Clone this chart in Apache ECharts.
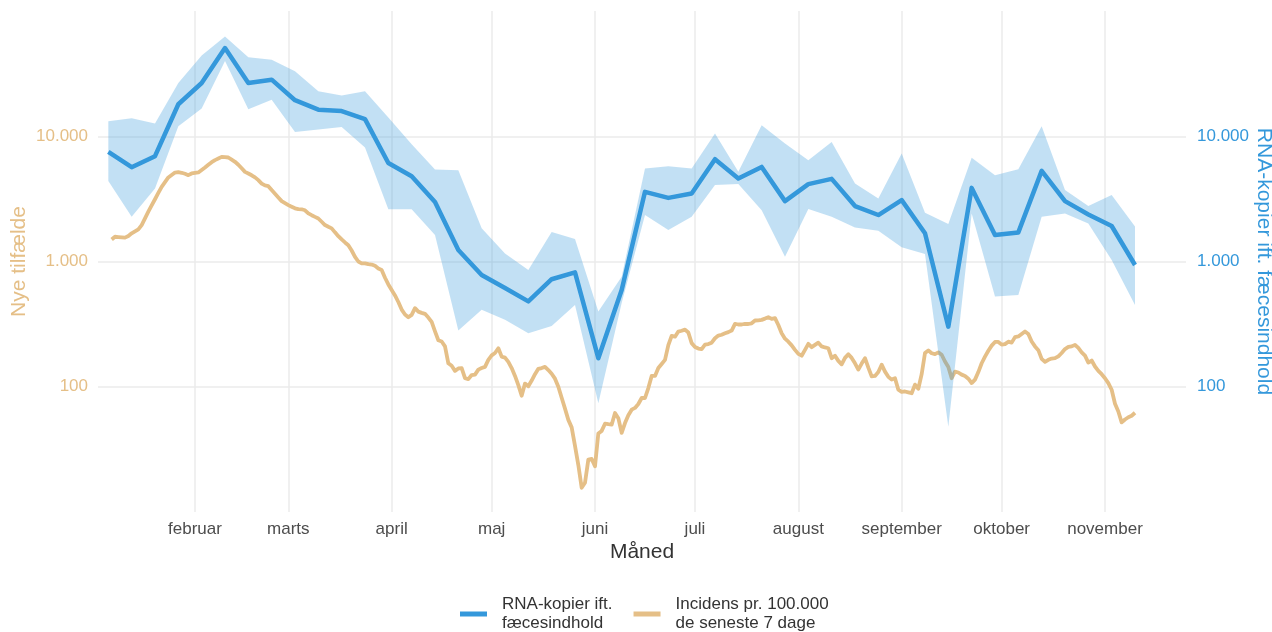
<!DOCTYPE html>
<html>
<head>
<meta charset="utf-8">
<script src="https://cdn.jsdelivr.net/npm/echarts@6/dist/echarts.min.js"></script>
<style>
html,body{margin:0;padding:0;background:#fff;}
#chart{width:1272px;height:632px;}
</style>
</head>
<body>
<div id="chart"></div>
<script>
// Month tick labels (Danish)
const monthNames = ['januar','februar','marts','april','maj','juni','juli','august','september','oktober','november','december'];

// RNA copies relative to faecal content: weekly from 2021-01-06
const rnaStart = [2021, 0, 6];
const rnaValues = [7500, 5660, 6930, 18000, 26600, 50600, 26600, 28300, 19400, 16300, 15900, 13700, 6120, 4790, 2980, 1235, 781, 615, 480, 722, 820, 169, 593, 3600, 3220, 3490, 6560, 4600, 5690, 3035, 4150, 4570, 2770, 2350, 3090, 1680, 302, 3870, 1625, 1707, 5290, 3035, 2375, 1920, 938];
const rnaUpper = [13170, 13900, 12620, 26600, 44200, 62700, 42800, 40800, 33100, 22900, 21200, 22900, 14100, 8630, 5430, 5360, 1840, 1160, 855, 1718, 1510, 398, 757, 5520, 5770, 5520, 10500, 5200, 12240, 8750, 6440, 9010, 4200, 3190, 7280, 2450, 1990, 6720, 4890, 5460, 12000, 3720, 2770, 3390, 1900];
const rnaLower = [4400, 2275, 3830, 12000, 16640, 39800, 16400, 19600, 10800, 11300, 11870, 8130, 2610, 2610, 1625, 281, 411, 342, 268, 306, 450, 74, 466, 2350, 1782, 2275, 4080, 4150, 2570, 1092, 2620, 2275, 1870, 1760, 1297, 1148, 48, 2420, 525, 541, 2275, 2420, 2015, 1028, 450];

// Incidence per 100,000 over the last 7 days: daily from 2021-01-07
const incStart = [2021, 0, 7];
const incValues = [
1497,1576,1567,1559,1550,1597,1678,1740,1805,1954,2209,2502,2809,3142,3527,3945,4300,4687,4898,5129,
5166,5110,5017,4889,5045,5091,5138,5379,5631,5917,6206,6450,6641,6840,6802,6765,6509,6252,5928,5549,
5194,5045,4880,4696,4461,4191,4048,3996,3720,3475,3248,3035,2925,2820,2739,2659,2616,2611,2564,2422,
2343,2271,2205,2076,1954,1894,1839,1709,1594,1500,1420,1349,1224,1090,1000,967,967,952,946,924,
880,856,742,656,593,536,475,413,377,359,375,424,398,389,382,357,329,277,235,230,
210,154,147,134,140,141,117,115,124,125,137,141,144,164,178,186,203,174,171,158,
141,122,103,84.8,106,101,112,126,139,141,144,136,127,116,100,81.7,66.9,54.4,47.4,33.7,
23.7,15.6,17.1,26.2,26.5,23.2,42.4,44.4,50.7,50.2,49.8,61.7,56.1,42.8,51.3,59.3,65.6,67.8,72.8,81.3,
81.3,97.6,122,122,141,152,164,215,255,251,276,280,286,271,223,208,202,200,217,219,
225,244,256,260,267,273,281,318,314,314,318,317,321,338,339,342,350,359,348,353,
311,267,242,229,214,197,183,177,197,220,207,216,225,210,206,203,169,177,161,151,
170,182,170,154,137,153,169,142,121,122,131,150,132,120,114,117,94.6,90.9,91.7,90.2,
88.8,104,96.4,126,186,195,185,182,188,180,159,144,117,132,130,125,122,116,107,114,
131,154,174,194,213,228,228,217,219,229,225,249,252,264,276,264,230,210,196,167,
158,164,168,169,175,186,200,208,210,216,204,188,177,156,162,145,134,126,117,107,
94.6,73.2,63.5,51.9,54.8,57.1,58.7,62.0
];

const seriesNameRNA = 'RNA-kopier ift.\nfæcesindhold';
const seriesNameInc = 'Incidens pr. 100.000\nde seneste 7 dage';

const BLUE = '#3498DB';
const ORANGE = '#E5BF87';
const BAND = 'rgba(52,152,219,0.3)';
const GRID = '#EBEBEB';
const FONT = 'Liberation Sans, Arial, sans-serif';

function dayTs(start, n) {
  return new Date(start[0], start[1], start[2] + n).getTime();
}
const rnaDates = rnaValues.map((_, i) => dayTs(rnaStart, i * 7));
const incDates = incValues.map((_, i) => dayTs(incStart, i));

const rnaData = rnaValues.map((v, i) => [rnaDates[i], v]);
const incData = incValues.map((v, i) => [incDates[i], v]);
const bandData = rnaDates.map((d, i) => [d, rnaLower[i], rnaUpper[i]]);

function thousands(v) {
  return String(Math.round(v)).replace(/\B(?=(\d{3})+(?!\d))/g, '.');
}

const chart = echarts.init(document.getElementById('chart'), null, {renderer: 'canvas'});
chart.setOption({
  animation: false,
  textStyle: {fontFamily: FONT},
  grid: {left: 98, right: 86, top: 11, bottom: 120, containLabel: false, outerBoundsMode: 'none'},
  legend: {
    data: [seriesNameRNA, seriesNameInc],
    left: 455,
    top: 590,
    icon: 'rect',
    itemWidth: 27,
    itemHeight: 5,
    itemGap: 21,
    textStyle: {fontSize: 17, color: '#333', lineHeight: 19, fontFamily: FONT, padding: [0, 0, 0, 10]}
  },
  xAxis: {
    type: 'time',
    min: new Date(2021, 0, 2, 21, 36).getTime(),
    max: new Date(2021, 10, 25, 7, 12).getTime(),
    minInterval: 28 * 86400000,
    maxInterval: 31 * 86400000,
    axisLine: {show: false},
    axisTick: {show: false},
    splitLine: {show: true, showMinLine: false, showMaxLine: false, lineStyle: {color: GRID, width: 1.5}},
    axisLabel: {
      formatter: function (v) { return monthNames[new Date(v).getMonth()]; },
      color: '#4D4D4D', fontSize: 17, margin: 9, fontFamily: FONT,
      showMinLabel: false, showMaxLabel: false
    },
    name: 'Måned',
    nameLocation: 'middle',
    nameGap: 30,
    nameMoveOverlap: false,
    nameTextStyle: {fontSize: 21, color: '#333', fontFamily: FONT}
  },
  yAxis: [
    {
      type: 'log', logBase: 10, min: 10, max: 100000,
      position: 'left',
      axisLine: {show: false}, axisTick: {show: false},
      splitLine: {show: true, showMinLine: false, showMaxLine: false, lineStyle: {color: GRID, width: 1.5}},
      axisLabel: {formatter: thousands, color: ORANGE, fontSize: 17, margin: 10, fontFamily: FONT, showMinLabel: false, showMaxLabel: false},
      name: 'Nye tilfælde', nameLocation: 'middle', nameGap: 68, nameMoveOverlap: false,
      nameTextStyle: {fontSize: 21, color: ORANGE, fontFamily: FONT}
    },
    {
      type: 'log', logBase: 10, min: 10, max: 100000,
      position: 'right',
      axisLine: {show: false}, axisTick: {show: false},
      splitLine: {show: false},
      axisLabel: {formatter: thousands, color: BLUE, fontSize: 17, margin: 11, fontFamily: FONT, showMinLabel: false, showMaxLabel: false},
      name: 'RNA-kopier ift. fæcesindhold', nameLocation: 'middle', nameGap: 67, nameRotate: -90, nameMoveOverlap: false,
      nameTextStyle: {fontSize: 21, color: BLUE, fontFamily: FONT}
    }
  ],
  series: [
    {
      name: seriesNameInc,
      type: 'line',
      yAxisIndex: 0,
      data: incData,
      showSymbol: false,
      symbol: 'none',
      color: ORANGE,
      lineStyle: {color: ORANGE, width: 3.8, join: 'round'},
      z: 2
    },
    {
      name: 'band',
      type: 'custom',
      yAxisIndex: 0,
      data: bandData,
      encode: {x: 0, y: [1, 2]},
      clip: true,
      z: 3,
      renderItem: function (params, api) {
        if (params.dataIndex !== 0) return {type: 'group', children: []};
        const pts = [];
        for (let i = 0; i < bandData.length; i++) pts.push(api.coord([bandData[i][0], bandData[i][2]]));
        for (let i = bandData.length - 1; i >= 0; i--) pts.push(api.coord([bandData[i][0], bandData[i][1]]));
        return {type: 'polygon', shape: {points: pts}, style: {fill: BAND}, silent: true};
      }
    },
    {
      name: seriesNameRNA,
      type: 'line',
      yAxisIndex: 0,
      data: rnaData,
      showSymbol: false,
      symbol: 'none',
      color: BLUE,
      lineStyle: {color: BLUE, width: 4.5, join: 'round'},
      z: 4
    }
  ]
});
</script>
</body>
</html>
